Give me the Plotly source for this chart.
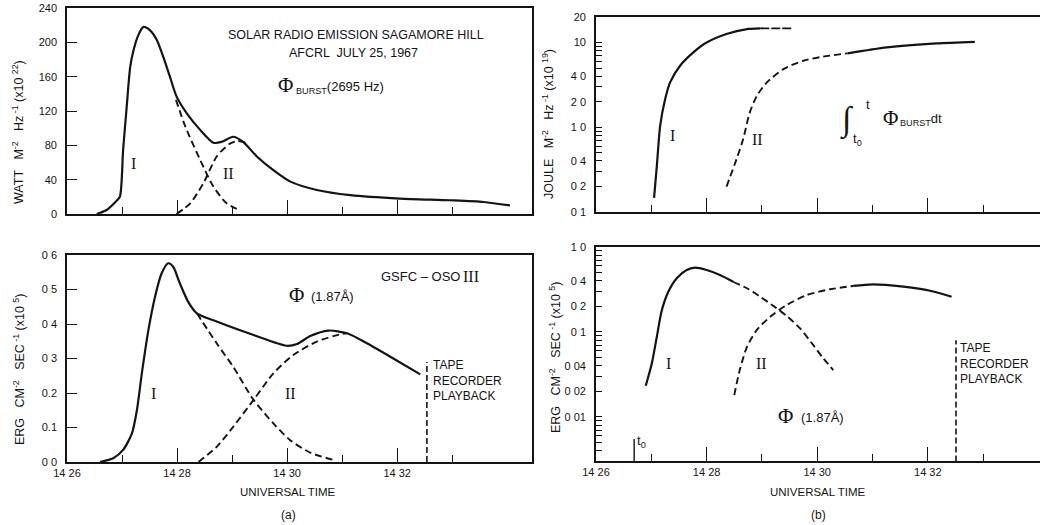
import plotly.graph_objects as go

# ---------------- data (time in minutes after 14:00 UT) ----------------
# (a) top: radio burst flux, 2695 Hz (WATT M-2 Hz-1 x1e22)
radio_t = [26.54, 26.72, 26.88, 26.96, 27.02, 27.08, 27.15, 27.21, 27.3, 27.39, 27.51, 27.63,
           27.75, 27.87, 27.99, 28.18, 28.42, 28.66, 28.81, 29.02, 29.2, 29.45, 29.75,
           30.05, 30.54, 31.15, 32.05, 32.96, 33.57, 34.05]
radio_v = [0, 4.7, 14, 20, 75, 121, 172, 191, 209, 218, 214, 203,
           183, 160, 137, 117, 98, 83, 84, 90, 84, 67, 51,
           38, 28, 22, 18, 16, 14, 10]
radio_I_t = [27.98, 28.15, 28.42, 28.66, 28.9, 29.15]
radio_I_v = [133, 102, 63, 32, 12.5, 4]
radio_II_t = [27.99, 28.24, 28.48, 28.72, 28.96, 29.1, 29.25]
radio_II_v = [0, 12.5, 36, 67, 82, 85, 83]

# (a) bottom: X-ray flux 1.87 A (ERG CM-2 SEC-1 x1e5)
xray_t = [26.6, 26.84, 27.02, 27.18, 27.27, 27.36, 27.48, 27.6, 27.72, 27.84, 27.93, 28.05,
          28.2, 28.36, 28.72, 29.39, 29.99, 30.18, 30.42, 30.75, 31.09, 31.45, 31.93, 32.42]
xray_v = [0, 0.011, 0.035, 0.083, 0.15, 0.257, 0.383, 0.479, 0.547, 0.576, 0.566, 0.518,
          0.465, 0.431, 0.407, 0.368, 0.337, 0.342, 0.365, 0.381, 0.373, 0.344, 0.3, 0.254]
xray_I_t = [28.36, 28.72, 29.02, 29.39, 29.75, 30.05, 30.42, 30.84]
xray_I_v = [0.431, 0.344, 0.276, 0.18, 0.112, 0.064, 0.027, 0.006]
xray_II_t = [28.39, 28.72, 29.02, 29.39, 29.75, 30.11, 30.54, 30.96, 31.09]
xray_II_v = [0, 0.044, 0.102, 0.18, 0.257, 0.31, 0.349, 0.37, 0.373]
tape_a_t = [32.54, 32.54]
tape_a_v = [0, 0.29]

# (b) top: integrated radio flux (JOULE M-2 Hz-1 x1e19), log
int_I_t = [27.05, 27.1, 27.16, 27.25, 27.34, 27.52, 27.76, 28.0, 28.36, 28.73, 28.97]
int_I_v = [0.147, 0.348, 1.04, 2.14, 3.38, 5.32, 7.65, 10.0, 12.6, 14.4, 14.7]
int_I_ext_t = [28.97, 29.54]
int_I_ext_v = [14.7, 14.7]
int_II_t = [28.36, 28.54, 28.66, 28.78, 28.91, 29.09, 29.39, 29.75, 30.1, 30.55]
int_II_v = [0.199, 0.418, 0.72, 1.49, 2.35, 3.38, 4.86, 6.09, 6.8, 7.45]
int_II_ext_t = [30.55, 31.26, 32.16, 32.85]
int_II_ext_v = [7.45, 8.77, 9.78, 10.2]

# (b) bottom: X-ray flux, log
xl_I_t = [26.9, 27.01, 27.1, 27.19, 27.31, 27.46, 27.64, 27.79, 28.0, 28.24, 28.48]
xl_I_v = [0.0233, 0.0428, 0.088, 0.18, 0.3, 0.43, 0.536, 0.571, 0.536, 0.469, 0.39]
xl_I_dash_t = [28.48, 28.73, 28.97, 29.21, 29.45, 29.69, 29.93, 30.11, 30.29]
xl_I_dash_v = [0.39, 0.327, 0.26, 0.202, 0.154, 0.11, 0.07, 0.049, 0.0357]
xl_II_dash_t = [28.5, 28.6, 28.73, 28.91, 29.15, 29.45, 29.81, 30.23, 30.65]
xl_II_dash_v = [0.0181, 0.0357, 0.067, 0.106, 0.151, 0.208, 0.272, 0.318, 0.348]
xl_II_t = [30.65, 31.01, 31.56, 32.04, 32.43]
xl_II_v = [0.348, 0.364, 0.341, 0.306, 0.26]
tape_b_t = [32.51, 32.51]
tape_b_v = [0.003, 0.08]
t0_t = [26.69, 26.69]
t0_v = [0.003, 0.0055]

# tick labels
time_vals = [26, 28, 30, 32]
time_text = ["14 26", "14 28", "14 30", "14 32"]
time_minor = [27, 29, 31, 33]
ya_vals = [0, 40, 80, 120, 160, 200, 240]
ya_text = ["0", "40", "80", "120", "160", "200", "240"]
yb_vals = [0, 0.1, 0.2, 0.3, 0.4, 0.5, 0.6]
yb_text = ["0 0", "0.1", "0.2", "0 3", "0 4", "0 5", "0 6"]
yc_vals = [0.1, 0.2, 0.4, 1, 2, 4, 10, 20]
yc_text = ["0 1", "0 2", "0 4", "1 0", "2 0", "4 0", "10", "20"]
yc_minor = [0.3, 0.5, 0.6, 0.7, 0.8, 0.9, 3, 5, 6, 7, 8, 9]
yc_decades = [0.1, 1, 10]
yd_vals = [0.01, 0.02, 0.04, 0.1, 0.2, 0.4, 1.0]
yd_text = ["0 01", "0 02", "0 04", "0 1", "0 2", "0 4", "1 0"]
yd_minor = [0.004, 0.005, 0.006, 0.007, 0.008, 0.009, 0.03, 0.05, 0.06, 0.07, 0.08, 0.09,
            0.3, 0.5, 0.6, 0.7, 0.8, 0.9]
yd_decades = [0.01, 0.1, 1.0]

# ---------------- figure ----------------
W, H = 1040, 525
INK = "#141414"
SANS = "Liberation Sans, Arial, sans-serif"
SERIF = "Liberation Serif, DejaVu Serif, serif"


def dom_x(a, b):
    return [a / W, b / W]


def dom_y(top, bottom):
    return [1 - bottom / H, 1 - top / H]


def P(x, y):
    return x / W, 1 - y / H


fig = go.Figure()

SOLID = dict(color=INK, width=2.2, shape="spline", smoothing=0.7)
DASH = dict(color=INK, width=1.9, dash="7px,4px", shape="spline", smoothing=0.7)


def add(t, v, line, xa, ya):
    fig.add_trace(go.Scatter(x=t, y=v, mode="lines", line=line, xaxis=xa, yaxis=ya,
                             showlegend=False, hoverinfo="skip"))


add(radio_t, radio_v, SOLID, "x", "y")
add(radio_I_t, radio_I_v, DASH, "x", "y")
add(radio_II_t, radio_II_v, DASH, "x", "y")

add(xray_t, xray_v, SOLID, "x2", "y2")
add(xray_I_t, xray_I_v, DASH, "x2", "y2")
add(xray_II_t, xray_II_v, DASH, "x2", "y2")
add(tape_a_t, tape_a_v, dict(color=INK, width=1.6, dash="6px,3px"), "x2", "y2")

add(int_I_t, int_I_v, SOLID, "x3", "y3")
add(int_I_ext_t, int_I_ext_v, dict(color=INK, width=1.9, dash="9px,2px"), "x3", "y3")
add(int_II_t, int_II_v, DASH, "x3", "y3")
add(int_II_ext_t, int_II_ext_v, SOLID, "x3", "y3")

add(xl_I_t, xl_I_v, SOLID, "x4", "y4")
add(xl_I_dash_t, xl_I_dash_v, DASH, "x4", "y4")
add(xl_II_dash_t, xl_II_dash_v, DASH, "x4", "y4")
add(xl_II_t, xl_II_v, SOLID, "x4", "y4")
add(tape_b_t, tape_b_v, dict(color=INK, width=1.6, dash="6px,3px"), "x4", "y4")
add(t0_t, t0_v, dict(color=INK, width=1.4), "x4", "y4")

TICKFONT = dict(family=SANS, size=11, color=INK)


def xaxis(domain, anchor, rng, labels):
    return dict(domain=domain, anchor=anchor, range=rng, showline=True, linecolor=INK,
                linewidth=1.6, mirror=True, ticks="inside", ticklen=14, tickwidth=1.4,
                tickcolor=INK, tickmode="array", tickvals=time_vals,
                ticktext=time_text, showticklabels=labels, tickfont=TICKFONT,
                automargin=False,
                minor=dict(tickmode="array", tickvals=time_minor, ticks="inside",
                           ticklen=7, tickwidth=1.4, tickcolor=INK, showgrid=False),
                showgrid=False, zeroline=False, fixedrange=True)


def yaxis(domain, anchor, rng, vals, text, log=False, minor=None, mirror=True, ticklen=10):
    d = dict(domain=domain, anchor=anchor, range=rng, showline=True, linecolor=INK,
             linewidth=1.6, mirror=mirror, ticks="inside", ticklen=ticklen, tickwidth=1.4,
             tickcolor=INK, tickmode="array", tickvals=vals, ticktext=text,
             tickfont=TICKFONT, ticklabelstandoff=6, showgrid=False, zeroline=False,
             automargin=False, fixedrange=True)
    if log:
        d["type"] = "log"
    if minor is not None:
        d["minor"] = dict(tickmode="array", tickvals=minor, ticks="inside", ticklen=6,
                          tickwidth=1.2, tickcolor=INK, showgrid=False)
    return d


LX = dom_x(67, 532)
RX = dom_x(596, 1040)
TL = dom_y(8, 214)
BL = dom_y(255, 462)
TR = dom_y(17, 212)
BR = dom_y(247, 461)

right_end = 26 + 444 / 55.3
yc_rng = [-1, 1.30103]
yd_rng = [-2.518, 0]

fig.update_layout(
    width=W, height=H, paper_bgcolor="white", plot_bgcolor="white",
    margin=dict(l=0, r=0, t=0, b=0, autoexpand=False),
    xaxis=xaxis(LX, "y", [26, 34.45], False),
    yaxis=yaxis(TL, "x", [0, 240], ya_vals, ya_text),
    xaxis2=xaxis(LX, "y2", [26, 34.45], True),
    yaxis2=yaxis(BL, "x2", [0, 0.6], yb_vals, yb_text),
    xaxis3=xaxis(RX, "y3", [26, right_end], False),
    yaxis3=yaxis(TR, "x3", yc_rng, yc_vals, yc_text, log=True, minor=yc_minor,
                 mirror=False, ticklen=6),
    xaxis4=xaxis(RX, "y4", [26, right_end], True),
    yaxis4=yaxis(BR, "x4", yd_rng, yd_vals, yd_text, log=True, minor=yd_minor,
                 mirror=False, ticklen=6),
    # overlay axes carrying the longer decade ticks of the log scales
    yaxis5=dict(domain=TR, anchor="x3", overlaying="y3", type="log", range=yc_rng,
                showline=False, ticks="inside", ticklen=12, tickwidth=1.4, tickcolor=INK,
                tickmode="array", tickvals=yc_decades, showticklabels=False,
                automargin=False, showgrid=False, zeroline=False, fixedrange=True),
    yaxis6=dict(domain=BR, anchor="x4", overlaying="y4", type="log", range=yd_rng,
                showline=False, ticks="inside", ticklen=12, tickwidth=1.4, tickcolor=INK,
                tickmode="array", tickvals=yd_decades, showticklabels=False,
                automargin=False, showgrid=False, zeroline=False, fixedrange=True),
)

ann = []


def text(x, y, s, size=12, family=SANS, xanchor="center", angle=0, **kw):
    px_, py_ = P(x, y)
    ann.append(dict(x=px_, y=py_, xref="paper", yref="paper", text=s, showarrow=False,
                    xanchor=xanchor, yanchor="middle", textangle=angle, borderpad=0,
                    font=dict(family=family, size=size, color=INK), **kw))


SP = "&nbsp;&nbsp;"
# axis titles
text(18, 132, f"WATT{SP} M<sup>-2</sup>{SP} Hz<sup> -1</sup>&nbsp;(x10&nbsp;<sup>22</sup>)",
     size=12.5, angle=-90)
text(19, 370, f"ERG{SP} CM<sup>-2</sup>{SP} SEC<sup> -1</sup>&nbsp;(x10&nbsp;<sup>5</sup>)",
     size=12.5, angle=-90)
text(548, 124, f"JOULE{SP} M<sup>-2</sup>{SP} Hz<sup> -1</sup>&nbsp;(x10&nbsp;<sup>19</sup>)",
     size=12.5, angle=-90)
text(555, 358, f"ERG{SP} CM<sup>-2</sup>{SP} SEC<sup> -1</sup>&nbsp;(x10&nbsp;<sup>5</sup>)",
     size=12.5, angle=-90)
text(288, 492, "UNIVERSAL TIME", size=11.5)
text(818, 492, "UNIVERSAL TIME", size=11.5)
text(288, 515, "(a)", size=12)
text(818, 515, "(b)", size=12)

# (a) top
text(356, 35, "SOLAR RADIO EMISSION SAGAMORE HILL", size=12.5)
text(353, 53, "AFCRL  JULY 25, 1967", size=12.5)
text(285, 85, "Φ", size=21, family=SERIF)
text(295, 87, "<sub>BURST</sub>(2695 Hz)", size=13, xanchor="left")
text(133, 163, "I", size=16, family=SERIF)
text(228, 173, "II", size=16, family=SERIF)

# (a) bottom
text(380, 276, "GSFC – OSO", size=13, xanchor="left")
text(462, 276, "III", size=16, family=SERIF, xanchor="left")
text(296, 295, "Φ", size=21, family=SERIF)
text(310, 296, "(1.87Å)", size=13, xanchor="left")
text(153, 393, "I", size=16, family=SERIF)
text(290, 393, "II", size=16, family=SERIF)
text(432, 380, "TAPE<br>RECORDER<br>PLAYBACK", size=12, xanchor="left", align="left")

# (b) top
text(672, 135, "I", size=16, family=SERIF)
text(757, 140, "II", size=16, family=SERIF)
text(847, 120, "∫", size=34, family=SERIF)
text(865, 104, "t", size=13, xanchor="left")
text(852, 139, "t<sub>0</sub>", size=13, xanchor="left")
text(890, 118, "Φ", size=21, family=SERIF)
text(899, 119, "<sub>BURST</sub>dt", size=13, xanchor="left")

# (b) bottom
text(668, 363, "I", size=16, family=SERIF)
text(761, 363, "II", size=16, family=SERIF)
text(785, 416, "Φ", size=21, family=SERIF)
text(800, 417, "(1.87Å)", size=13, xanchor="left")
text(959, 363, "TAPE<br>RECORDER<br>PLAYBACK", size=12, xanchor="left", align="left")
text(636, 441, "t<sub>0</sub>", size=13, xanchor="left")

fig.update_layout(annotations=ann)
fig.write_html(
    "out.html",
    config={"displayModeBar": False},
    post_script="document.body.style.margin='0';document.body.style.overflow='hidden';",
)
